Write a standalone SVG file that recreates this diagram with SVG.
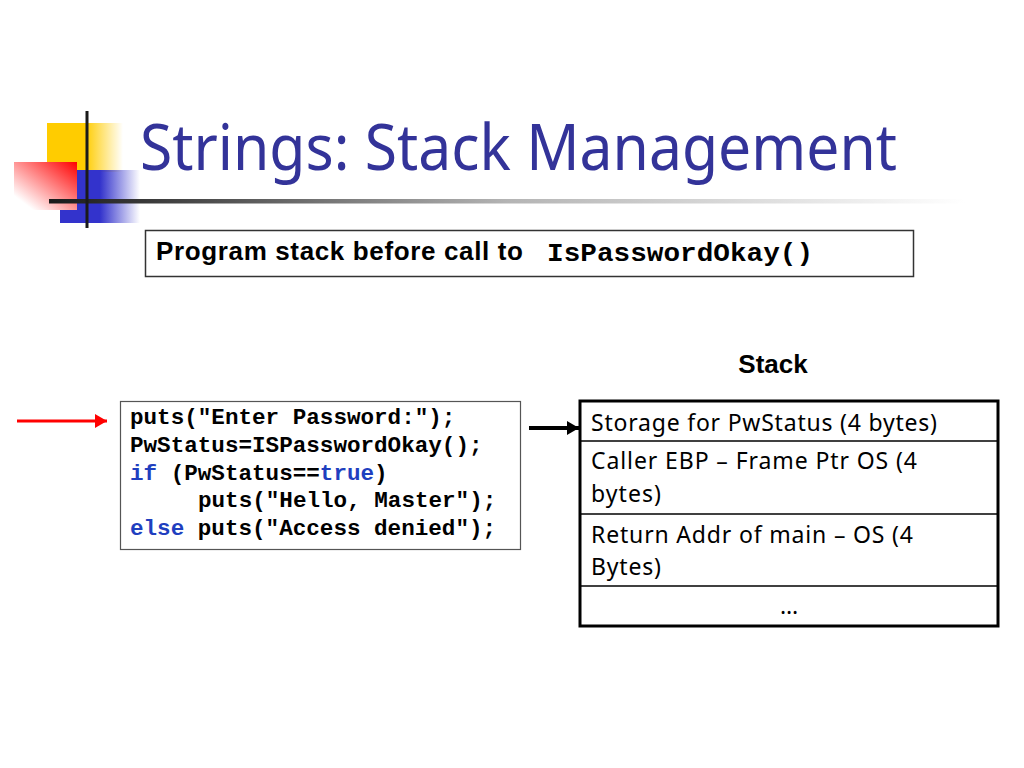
<svg xmlns="http://www.w3.org/2000/svg" width="1024" height="768" viewBox="0 0 1024 768">
<defs>
<linearGradient id="gY" x1="0" y1="0" x2="1" y2="0"><stop offset="0" stop-color="#FFCC00"/><stop offset="0.5" stop-color="#FFCC00"/><stop offset="1" stop-color="#FFCC00" stop-opacity="0"/></linearGradient>
<linearGradient id="gB" x1="0" y1="0" x2="1" y2="0"><stop offset="0" stop-color="#3333CC"/><stop offset="0.5" stop-color="#3333CC"/><stop offset="1" stop-color="#3333CC" stop-opacity="0"/></linearGradient>
<linearGradient id="gR" x1="1" y1="0" x2="0" y2="1"><stop offset="0" stop-color="#FF0000"/><stop offset="0.85" stop-color="#FFFFFF"/><stop offset="1" stop-color="#FFFFFF"/></linearGradient>
<linearGradient id="gL" gradientUnits="userSpaceOnUse" x1="49" y1="0" x2="965" y2="0"><stop offset="0" stop-color="#1a1a1a"/><stop offset="0.2" stop-color="#555"/><stop offset="0.5" stop-color="#b4b4b4"/><stop offset="1" stop-color="#ffffff"/></linearGradient>
<marker id="ahR" markerWidth="12" markerHeight="14" refX="12" refY="7" orient="auto" markerUnits="userSpaceOnUse"><path d="M0,0 L12,7 L0,14 Z" fill="#FF0000"/></marker>
<marker id="ahK" markerWidth="12" markerHeight="14" refX="12" refY="7" orient="auto" markerUnits="userSpaceOnUse"><path d="M0,0 L12,7 L0,14 Z" fill="#000"/></marker>
<style>
.title{font-family:"Noto Sans","Liberation Sans",sans-serif;font-size:63px;fill:#333399}
.hdr{font-family:"Liberation Sans",Arial,sans-serif;font-size:26px;font-weight:bold;fill:#000}
.hmono{font-family:"Liberation Mono","Courier New",monospace;font-weight:bold;font-size:26px;fill:#000}
.code{font-family:"Liberation Mono","Courier New",monospace;font-weight:bold;font-size:22.6px;fill:#000}
.kw{fill:#1f3fbf}
.cell{font-family:"Noto Sans","Liberation Sans",sans-serif;font-size:23px;fill:#000}
.box{fill:#fff;stroke:#333;stroke-width:1.5}
</style>
</defs>
<rect width="1024" height="768" fill="#fff"/>
<g id="logo">
<rect x="47" y="123" width="76" height="49" fill="url(#gY)"/>
<rect x="60" y="170" width="80" height="53" fill="url(#gB)"/>
<rect x="14" y="162" width="63" height="48" fill="url(#gR)"/>
<rect x="49" y="199" width="916" height="4.5" fill="url(#gL)"/>
<rect x="85.5" y="111" width="3" height="117" fill="#1a1a1a"/>
</g>
<g id="title"><text class="title" x="140" y="170" textLength="757" lengthAdjust="spacingAndGlyphs">Strings: Stack Management</text></g>
<g id="header">
<rect class="box" x="145.5" y="230.5" width="768" height="46"/>
<text class="hdr" x="156" y="260" textLength="367">Program stack before call to</text>
<text class="hmono" x="547" y="261" textLength="266" lengthAdjust="spacingAndGlyphs">IsPasswordOkay()</text>
</g>
<g id="stack-label"><text class="hdr" x="773" y="373" text-anchor="middle">Stack</text></g>
<g id="code">
<rect x="120.5" y="401.5" width="400" height="148" fill="#fff" stroke="#555" stroke-width="1.2"/>
<text class="code" x="130" y="424">puts("Enter Password:");</text>
<text class="code" x="130" y="452">PwStatus=ISPasswordOkay();</text>
<text class="code" x="130" y="480"><tspan class="kw">if</tspan> (PwStatus==<tspan class="kw">true</tspan>)</text>
<text class="code" x="198" y="507">puts("Hello, Master");</text>
<text class="code" x="130" y="535"><tspan class="kw">else</tspan> puts("Access denied");</text>
</g>
<g id="stack">
<rect x="580" y="401" width="418" height="225" fill="#fff" stroke="#000" stroke-width="3"/>
<line x1="580" y1="441" x2="998" y2="441" stroke="#000" stroke-width="1.5"/>
<line x1="580" y1="514" x2="998" y2="514" stroke="#000" stroke-width="1.5"/>
<line x1="580" y1="586" x2="998" y2="586" stroke="#000" stroke-width="1.5"/>
<text class="cell" x="591" y="431" textLength="346">Storage for PwStatus (4 bytes)</text>
<text class="cell" x="591" y="469" textLength="326">Caller EBP – Frame Ptr OS (4</text>
<text class="cell" x="591" y="502" textLength="70">bytes)</text>
<text class="cell" x="591" y="543" textLength="322">Return Addr of main – OS (4</text>
<text class="cell" x="591" y="575" textLength="70">Bytes)</text>
<text class="cell" x="789" y="614" text-anchor="middle">…</text>
</g>
<g id="connectors">
<line x1="17" y1="421" x2="107" y2="421" stroke="#FF0000" stroke-width="3" marker-end="url(#ahR)"/>
<line x1="529" y1="428" x2="579" y2="428" stroke="#000" stroke-width="4" marker-end="url(#ahK)"/>
</g>
</svg>
